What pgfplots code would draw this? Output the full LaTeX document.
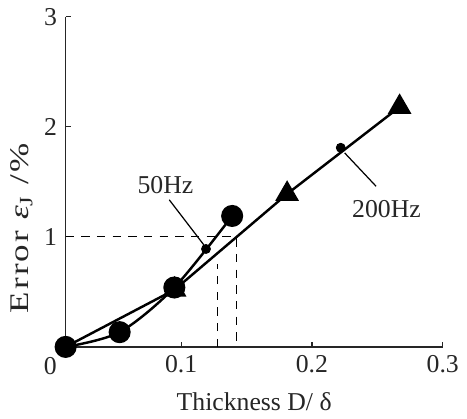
\documentclass[border=0pt]{standalone}
\usepackage{fontspec}
\setmainfont{Liberation Serif}
\usepackage{graphicx}
\usepackage{pgfplots}
\pgfplotsset{compat=1.18}
\begin{document}
\begin{tikzpicture}
\begin{axis}[name=ax, at={(0,0)}, anchor=south west,
  scale only axis, width=154pt, height=134.8pt,
  xmin=0.0117, xmax=0.3, ymin=0, ymax=3,
  axis lines=left, axis line style={-, line width=0.5pt, black!85},
  xtick={0.1,0.2,0.3}, xticklabels={0.1,0.2,0.3},
  ytick={1,2,3}, yticklabels={1,2,3},
  tick align=inside, major tick length=2.2pt,
  tick style={black!85, line width=0.5pt},
  /pgf/number format/assume math mode=true,
  ticklabel style={font=\fontsize{10.5}{12}\selectfont, text=black!85},
  xlabel={Thickness D/ δ},
  xlabel style={font=\fontsize{10.5}{12}\selectfont, text=black!85, yshift=-1pt},
  clip=false]
\addplot[black, line width=1pt, mark=triangle*, mark size=4.6pt, mark indices={2,3,4}]
  coordinates {(0.0117,0) (0.095,0.52) (0.181,1.39) (0.267,2.18)};
\addplot[black, line width=1pt, smooth, mark=*, mark size=4pt]
  coordinates {(0.0117,0) (0.053,0.134) (0.0948,0.54) (0.139,1.19)};
\addplot[black, only marks, mark=*, mark size=1.8pt]
  coordinates {(0.119,0.89) (0.222,1.81)};
\addplot[black, line width=0.5pt, dash pattern=on 3.4pt off 3pt]
  coordinates {(0.0117,1) (0.1425,1) (0.1425,0)};
\addplot[black, line width=0.5pt, dash pattern=on 3.4pt off 3pt]
  coordinates {(0.1277,0) (0.1277,0.75)};
\draw[black, line width=0.5pt] (axis cs:0.0909,1.337) -- (axis cs:0.118,0.917);
\draw[black, line width=0.5pt] (axis cs:0.225,1.763) -- (axis cs:0.249,1.46);
\node[font=\fontsize{10.5}{12}\selectfont, text=black!85] at (axis cs:0.088,1.47) {50Hz};
\node[font=\fontsize{10.5}{12}\selectfont, text=black!85] at (axis cs:0.257,1.256) {200Hz};
\node[font=\fontsize{10.5}{12}\selectfont, text=black!85] at ([yshift=-8pt]axis cs:0,0) {0};
\node[rotate=90, font=\fontsize{11}{13}\selectfont, text=black!85] at ([xshift=-18pt]rel axis cs:0,0.36)
  {\scalebox{1.3}[1]{\addfontfeatures{LetterSpace=6}Error {\itshape ε}\textsubscript{J} /\%}};
\end{axis}
\path[use as bounding box] ([xshift=-26.8pt, yshift=-24.8pt]ax.south west) rectangle ++(186.8pt,166pt);
\end{tikzpicture}
\end{document}
